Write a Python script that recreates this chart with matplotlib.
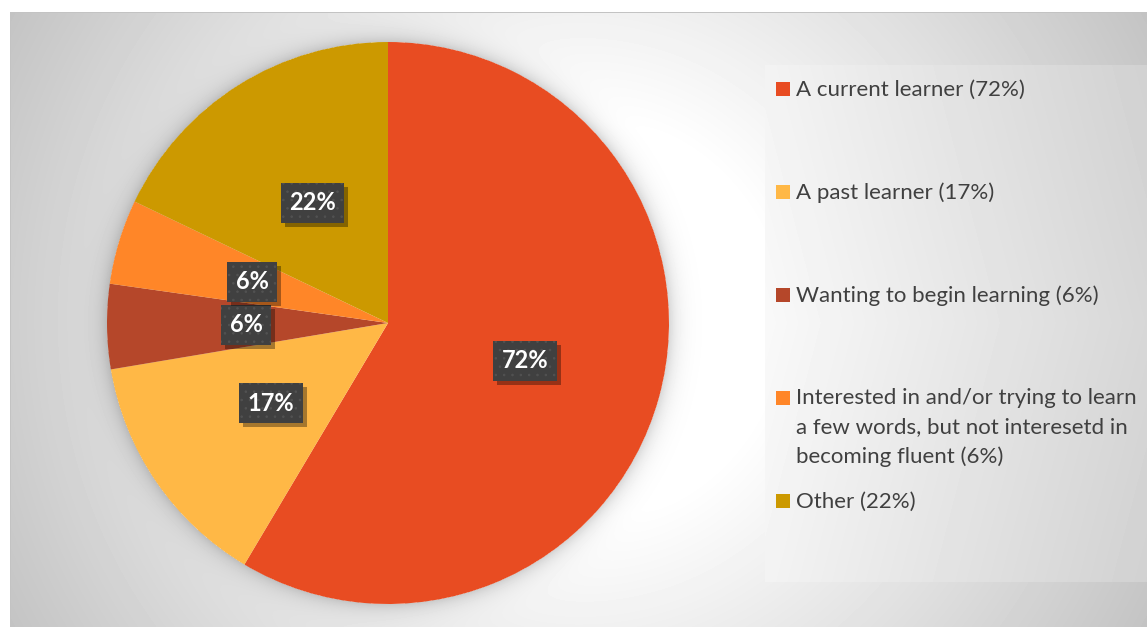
import numpy as np
import matplotlib
matplotlib.use("Agg")
import matplotlib.pyplot as plt
import matplotlib.patheffects as pe
from matplotlib.patches import Rectangle

plt.rcParams['font.family'] = ['Lato', 'DejaVu Sans']
plt.rcParams['hatch.linewidth'] = 0.6

# survey answers
categories = [
    "A current learner",
    "A past learner",
    "Wanting to begin learning",
    "Interested in and/or trying to learn\na few words, but not interesetd in\nbecoming fluent",
    "Other",
]
values = [72, 17, 6, 6, 22]
value_labels = ["72%", "17%", "6%", "6%", "22%"]
colors = ["#E84C22", "#FFB846", "#B5472A", "#FF8628", "#CC9900"]

W, H = 1147, 627
fig = plt.figure(figsize=(W / 100, H / 100), dpi=100, facecolor="white")

# chart area background: radial grey fade, soft glow round the pie, legend panel
yy, xx = np.mgrid[0:H, 0:W] + 0.5
dist = np.hypot(xx - 578, yy - 320)
bg = 255 - 60 * np.clip((dist - 200) / 450, 0, 1)
ring = np.hypot(xx - 388, yy - 323) - 281
bg = bg * np.where(ring > 0, 1 - 0.16 * np.exp(-np.clip(ring, 0, None) / 9), 1)
panel = (xx >= 765) & (yy >= 65) & (yy <= 582)
bg = np.where(panel, 249 - 34 * (xx - 765) / 382 - 6 * np.abs(yy - 323) / 260, bg)
bg = np.where((xx < 10) | (yy < 12), 255, bg)
bg = np.where(((yy >= 12) & (yy < 13) & (xx >= 10)) | ((xx >= 10) & (xx < 11) & (yy >= 12)), 195, bg)

ax_bg = fig.add_axes([0, 0, 1, 1])
ax_bg.imshow(bg, cmap="gray", vmin=0, vmax=255, extent=(0, W, H, 0),
             interpolation="nearest", aspect="auto")
ax_bg.set_axis_off()

# pie
cx, cy, r = 388, 323, 281
ax = fig.add_axes([(cx - r) / W, (H - cy - r) / H, 2 * r / W, 2 * r / H])
wedges, _ = ax.pie(values, colors=colors, startangle=90, counterclock=False,
                   wedgeprops=dict(linewidth=0))
ax.set_xlim(-1, 1)
ax.set_ylim(-1, 1)
ax.set_aspect("equal")
ax.set_axis_off()

for w, lab in zip(wedges, value_labels):
    ang = np.deg2rad((w.theta1 + w.theta2) / 2)
    t = ax.text(0.505 * np.cos(ang), 0.505 * np.sin(ang), lab,
                ha="center", va="center", color="white", fontsize=17,
                fontweight="bold", zorder=4,
                bbox=dict(boxstyle="square,pad=0.36", facecolor="#404040",
                          edgecolor="#525252", linewidth=0, hatch=".."))
    # drop shadow under the box, without the dot pattern
    t.get_bbox_patch().set_path_effects([
        pe.SimplePatchShadow(offset=(3, -3), shadow_rgbFace="black",
                             alpha=0.35, hatch=None),
        pe.Normal(),
    ])

# legend, one entry every 103 px (first line baseline)
line_px = 29
for i, (name, val, col) in enumerate(zip(categories, value_labels, colors)):
    base = 96 + 103 * i
    n_lines = name.count("\n") + 1
    fig.patches.append(Rectangle((776 / W, (H - base) / H), 14 / W, 14 / H,
                                 transform=fig.transFigure, facecolor=col,
                                 edgecolor="none"))
    last = base + (n_lines - 1) * line_px
    fig.text(796 / W, (H - last) / H, f"{name} ({val})", ha="left",
             va="baseline", fontsize=16, color="#404040", linespacing=1.55)

fig.savefig("out.png", dpi=100, facecolor="white")
